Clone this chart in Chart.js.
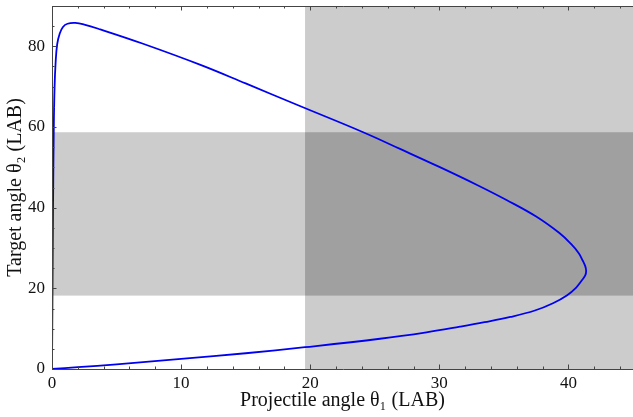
<!DOCTYPE html>
<html lang="en">
<head>
    <meta charset="UTF-8">
    <title>Projectile vs target angle</title>
    <script src="https://cdn.jsdelivr.net/npm/chart.js"></script>
    <style>
        html, body { margin: 0; padding: 0; background: #fff; }
        #wrap { width: 633px; height: 417px; }
    </style>
</head>
<body>
    <div id="wrap"><canvas id="angleChart"></canvas></div>
    <script>
        // curve: projectile angle (x) and target angle (y), in LAB degrees
        const thetaProj = [0, 2, 5, 10, 15, 19.6, 25.4, 29, 31.6, 33.5, 35.5, 37.4, 38.8, 39.9, 40.6, 41.0, 41.3, 41.37,
                           41.3, 41.1, 40.8, 40.2, 39.3, 37.5, 35.2, 33, 30, 27, 24.1, 19.2, 15, 11.5, 7, 3.74, 2.5, 1.8,
                           1.2, 0.85, 0.6, 0.4, 0.28, 0.2, 0.14, 0.08, 0.04, 0];
        const thetaTarget = [0, 0.45, 1.15, 2.5, 3.9, 5.4, 7.5, 9.1, 10.5, 11.6, 12.9, 14.5, 16.3, 18.3, 20.2, 21.8, 23.2, 24.3,
                             25.5, 26.9, 28.7, 31.0, 33.7, 37.8, 41.9, 45.5, 50.1, 54.5, 58.7, 65.2, 70.8, 75.4, 80.7, 84.2, 85.4, 85.8,
                             85.6, 84.8, 83.2, 80.5, 76, 70, 60, 40, 20, 0];

        // shaded bands
        const projBand = [19.6, 45];
        const targetBand = [18.2, 58.7];

        const xTicks = [0, 10, 20, 30, 40];
        const yTicks = [0, 20, 40, 60, 80];

        const points = thetaProj.map((x, i) => ({ x: x, y: thetaTarget[i] }));

        const bandsPlugin = {
            id: 'bands',
            beforeDatasetsDraw(chart) {
                const { ctx, chartArea: a, scales: { x, y } } = chart;
                const x0 = x.getPixelForValue(projBand[0]), x1 = x.getPixelForValue(projBand[1]);
                const y0 = y.getPixelForValue(targetBand[1]), y1 = y.getPixelForValue(targetBand[0]);
                ctx.save();
                ctx.fillStyle = '#cccccc';
                ctx.fillRect(x0, a.top, x1 - x0, a.bottom - a.top);
                ctx.fillRect(a.left, y0, a.right - a.left, y1 - y0);
                ctx.fillStyle = '#a0a0a0';
                ctx.fillRect(x0, y0, x1 - x0, y1 - y0);
                ctx.restore();
            }
        };

        // Mathematica-style frame with inward ticks
        const framePlugin = {
            id: 'frame',
            afterDatasetsDraw(chart) {
                const { ctx, chartArea: a, scales: { x, y } } = chart;
                ctx.save();
                ctx.strokeStyle = '#444';
                ctx.lineWidth = 1;
                ctx.beginPath();
                ctx.moveTo(a.right + 1, a.top + 0.5);
                ctx.lineTo(a.left + 0.5, a.top + 0.5);
                ctx.lineTo(a.left + 0.5, a.bottom + 0.5);
                ctx.lineTo(a.right + 1, a.bottom + 0.5);
                for (let v = 0; v <= 45; v += 2) {
                    const px = Math.round(x.getPixelForValue(v)) + 0.5;
                    const len = v % 10 === 0 ? 4.5 : 2.5;
                    ctx.moveTo(px, a.bottom);
                    ctx.lineTo(px, a.bottom - len);
                    ctx.moveTo(px, a.top);
                    ctx.lineTo(px, a.top + len);
                }
                for (let v = 0; v <= 90; v += 5) {
                    const py = Math.round(y.getPixelForValue(v)) + 0.5;
                    const len = v % 20 === 0 ? 4.5 : 2.5;
                    ctx.moveTo(a.left, py);
                    ctx.lineTo(a.left + len, py);
                }
                ctx.stroke();
                ctx.restore();
            }
        };

        const serif = "'Liberation Serif', 'DejaVu Serif', serif";

        new Chart(document.getElementById('angleChart'), {
            type: 'scatter',
            data: {
                datasets: [{
                    data: points,
                    showLine: true,
                    borderColor: '#0000f0',
                    borderWidth: 1.8,
                    pointRadius: 0,
                    tension: 0.4,
                    fill: false
                }]
            },
            options: {
                responsive: true,
                maintainAspectRatio: false,
                animation: false,
                layout: { padding: { top: 6, right: 0, left: 0, bottom: 0 } },
                plugins: { legend: { display: false }, tooltip: { enabled: false } },
                scales: {
                    x: {
                        type: 'linear',
                        min: 0,
                        max: 45,
                        afterFit: s => { s.height = 48; s.paddingLeft = 0; s.paddingRight = 0; },
                        afterBuildTicks: s => { s.ticks = xTicks.map(v => ({ value: v })); },
                        grid: { display: false, drawTicks: false },
                        border: { display: false },
                        ticks: { color: '#111', padding: 4, maxRotation: 0, font: { family: serif, size: 17 } },
                        title: {
                            display: true,
                            text: 'Projectile angle θ₁ (LAB)',
                            color: '#111',
                            padding: { top: 0, bottom: 4 },
                            font: { family: serif, size: 20 }
                        }
                    },
                    y: {
                        type: 'linear',
                        min: 0,
                        max: 90,
                        afterFit: s => { s.width = 52; s.paddingTop = 0; s.paddingBottom = 0; },
                        afterBuildTicks: s => { s.ticks = yTicks.map(v => ({ value: v })); },
                        grid: { display: false, drawTicks: false },
                        border: { display: false },
                        ticks: { color: '#111', padding: 7, font: { family: serif, size: 17 } },
                        title: {
                            display: true,
                            text: 'Target angle θ₂ (LAB)',
                            color: '#111',
                            padding: { top: 4, bottom: 0 },
                            font: { family: serif, size: 20 }
                        }
                    }
                }
            },
            plugins: [bandsPlugin, framePlugin]
        });
    </script>
</body>
</html>
